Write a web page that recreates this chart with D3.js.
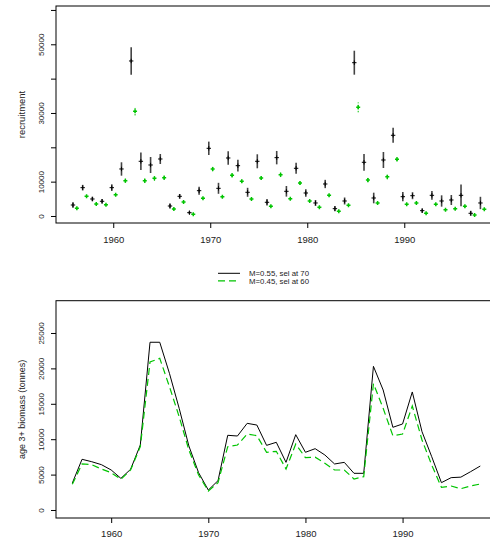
<!DOCTYPE html>
<html>
<head>
<meta charset="utf-8">
<script src="https://cdn.jsdelivr.net/npm/d3@7"></script>
<style>
  body { margin: 0; background: #fff; }
  text { font-family: "Liberation Sans", Arial, sans-serif; fill: #222; }
</style>
</head>
<body>
<div id="svg-container"></div>
<script>
// years shared by both panels
const years = [1956, 1957, 1958, 1959, 1960, 1961, 1962, 1963, 1964, 1965,
  1966, 1967, 1968, 1969, 1970, 1971, 1972, 1973, 1974, 1975,
  1976, 1977, 1978, 1979, 1980, 1981, 1982, 1983, 1984, 1985,
  1986, 1987, 1988, 1989, 1990, 1991, 1992, 1993, 1994, 1995,
  1996, 1997, 1998];

// recruitment, M=0.55 sel at 70 (black) and its error half width
const recBlack = [3200, 8250, 4950, 4280, 8250, 13690, 45140, 15930, 14850, 16600,
  2910, 5730, 970, 7370, 19710, 8060, 16890, 14650, 6900, 15930,
  3990, 16990, 7190, 13890, 6700, 3790, 9320, 2130, 4370, 44640,
  15640, 5240, 16310, 23500, 5620, 5910, 1550, 6020, 4370, 4660,
  6020, 790, 3790];
const recBlackErr = [820, 820, 640, 640, 970, 1950, 3980, 2570, 2330, 1460,
  730, 680, 390, 1160, 1950, 1600, 1950, 1700, 1310, 2040,
  970, 1950, 1550, 1600, 1120, 870, 1210, 780, 1020, 3490,
  2430, 1550, 2330, 2180, 1360, 1020, 630, 1260, 1650, 1460,
  3150, 730, 1800];

// recruitment, M=0.45 sel at 60 (green)
const recGreen = [2240, 5730, 3490, 3300, 6200, 10290, 30480, 10290, 10970, 11160,
  2040, 4080, 490, 5150, 13690, 5630, 11850, 10100, 4950, 11070,
  2820, 12040, 5040, 9610, 4370, 2530, 6020, 1370, 3110, 31640,
  10480, 3790, 11460, 16500, 3400, 3790, 790, 3400, 1830, 2130,
  2820, 290, 1950];
const recGreenErr = [300, 300, 300, 300, 400, 600, 1200, 700, 700, 600,
  300, 300, 200, 300, 700, 400, 600, 500, 300, 500,
  300, 700, 400, 500, 300, 300, 400, 200, 300, 1450,
  700, 400, 800, 600, 300, 300, 200, 300, 300, 300,
  400, 200, 300];

// age 3+ biomass (tonnes)
const bioBlack = [3800, 7160, 6820, 6400, 5650, 4470, 5750, 9180, 23690, 23690,
  19300, 14360, 9040, 5270, 2820, 4140, 10550, 10450, 12240, 12000,
  9130, 9560, 6730, 10640, 8150, 8660, 7770, 6500, 6730, 5180,
  5180, 20290, 16950, 11680, 12150, 16670, 11060, 7530, 3860, 4570,
  4640, 5410, 6210];
const bioGreen = [3630, 6500, 6400, 5790, 5270, 4330, 5650, 8940, 20900, 21420,
  17420, 13180, 8470, 4940, 2680, 3860, 8940, 9180, 10730, 10500,
  8150, 8290, 5790, 9320, 7390, 7460, 6590, 5650, 5650, 4380,
  4710, 17840, 14360, 10500, 10730, 14690, 9890, 6360, 3200, 3390,
  3010, 3390, 3670];

// ticks and labels
const xTicks = [1960, 1970, 1980, 1990];
const recTicks = [0, 10000, 20000, 30000, 40000, 50000, 60000];
const recLabels = ["0", "10000", "", "30000", "", "50000", ""];
const bioTicks = [0, 5000, 10000, 15000, 20000, 25000];
const legendLabels = ["M=0.55, sel at 70", "M=0.45, sel at 60"];

const green = "#00c400";

const svg = d3.select("#svg-container").append("svg")
  .attr("width", 490)
  .attr("height", 538);

/* draw left axis with rotated R-style labels */
const leftAxis = (g, y, ticks, labels) => {
  g.call(d3.axisLeft(y).tickValues(ticks).tickSize(5)
      .tickFormat((d, i) => labels[i]))
    .call(a => a.select(".domain").remove());
  g.selectAll(".tick line").attr("stroke", "#000");
  g.selectAll(".tick text")
    .attr("font-size", "8px")
    .attr("text-anchor", "middle")
    .attr("transform", "rotate(-90)")
    .attr("x", 0)
    .attr("y", -12)
    .attr("dy", 0);
}

const bottomAxis = (g, x, pad) => {
  g.call(d3.axisBottom(x).tickValues(xTicks).tickSize(5).tickPadding(pad)
      .tickFormat(d3.format("d")))
    .call(a => a.select(".domain").remove());
  g.selectAll(".tick line").attr("stroke", "#000");
  g.selectAll(".tick text").attr("font-size", "9.5px");
}

///// Top panel: recruitment
const x1 = d3.scaleLinear().domain([1954.1, 1999.95]).range([56, 500.8]);
const y1 = d3.scaleLinear().domain([-2040, 61150]).range([223, 6]);

svg.append("rect")
  .attr("x", 56).attr("y", 6)
  .attr("width", 500.8 - 56).attr("height", 217)
  .attr("fill", "none").attr("stroke", "#000");

leftAxis(svg.append("g").attr("transform", "translate(56,0)"), y1, recTicks, recLabels);
bottomAxis(svg.append("g").attr("transform", "translate(0,223)"), x1, 8);

svg.append("text")
  .attr("transform", "translate(25," + 114.5 + ") rotate(-90)")
  .attr("text-anchor", "middle")
  .attr("font-size", "9.5px")
  .text("recruitment");

// black estimates with error bars
const blk = svg.append("g");
years.forEach((yr, i) => {
  const cx = x1(yr - 0.15);
  blk.append("line")
    .attr("x1", cx).attr("x2", cx)
    .attr("y1", y1(recBlack[i] - recBlackErr[i]))
    .attr("y2", y1(recBlack[i] + recBlackErr[i]))
    .attr("stroke", "#444").attr("stroke-width", 1.6);
  const cy = y1(recBlack[i]);
  blk.append("path")
    .attr("d", `M${cx - 2.2},${cy}H${cx + 2.2}M${cx},${cy - 2.2}V${cy + 2.2}`)
    .attr("stroke", "#000").attr("stroke-width", 1);
});

// green estimates
const grn = svg.append("g");
years.forEach((yr, i) => {
  const cx = x1(yr + 0.25);
  grn.append("line")
    .attr("x1", cx).attr("x2", cx)
    .attr("y1", y1(recGreen[i] - recGreenErr[i]))
    .attr("y2", y1(recGreen[i] + recGreenErr[i]))
    .attr("stroke", green).attr("stroke-width", 1)
    .attr("stroke-dasharray", "1.5,1.5");
  const cy = y1(recGreen[i]);
  grn.append("path")
    .attr("d", `M${cx - 2},${cy}H${cx + 2}M${cx},${cy - 2}V${cy + 2}`)
    .attr("stroke", green).attr("stroke-width", 1.5);
});

///// Legend
const legend = svg.append("g");
legendLabels.forEach((lab, i) => {
  const ly = 273.3 + i * 7.6;
  legend.append("line")
    .attr("x1", 218).attr("x2", 240)
    .attr("y1", ly).attr("y2", ly)
    .attr("stroke", i === 0 ? "#000" : green)
    .attr("stroke-width", i === 0 ? 1 : 1.2)
    .attr("stroke-dasharray", i === 0 ? null : "7,4");
  legend.append("text")
    .attr("x", 249).attr("y", ly + 3)
    .attr("font-size", "7.8px")
    .text(lab);
});

///// Bottom panel: biomass
const x2 = d3.scaleLinear().domain([1954.32, 1999.68]).range([56, 496.6]);
const y2 = d3.scaleLinear().domain([-1130, 29560]).range([518, 300.7]);

svg.append("rect")
  .attr("x", 56).attr("y", 300.7)
  .attr("width", 496.6 - 56).attr("height", 518 - 300.7)
  .attr("fill", "none").attr("stroke", "#000");

leftAxis(svg.append("g").attr("transform", "translate(56,0)"), y2, bioTicks,
  bioTicks.map(d => String(d)));
bottomAxis(svg.append("g").attr("transform", "translate(0,518)"), x2, 7);

svg.append("text")
  .attr("transform", "translate(25," + 409.3 + ") rotate(-90)")
  .attr("text-anchor", "middle")
  .attr("font-size", "9px")
  .text("age 3+ biomass (tonnes)");

const line = (vals) => d3.line()
  .x((d, i) => x2(years[i]))
  .y(d => y2(d))(vals);

svg.append("path")
  .attr("d", line(bioBlack))
  .attr("fill", "none")
  .attr("stroke", "#000")
  .attr("stroke-width", 1);

svg.append("path")
  .attr("d", line(bioGreen))
  .attr("fill", "none")
  .attr("stroke", green)
  .attr("stroke-width", 1.2)
  .attr("stroke-dasharray", "7,4");
</script>
</body>
</html>
